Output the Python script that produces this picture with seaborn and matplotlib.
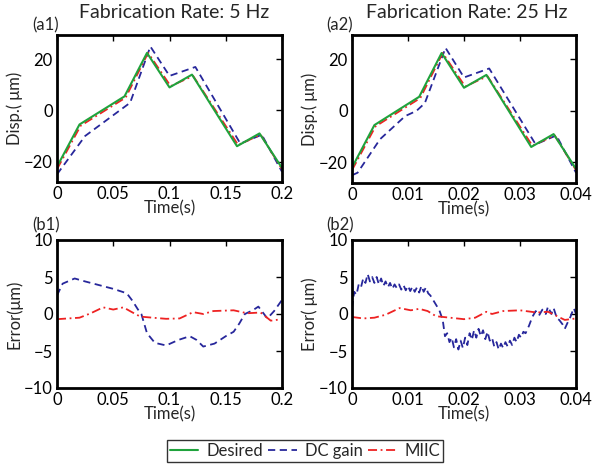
import numpy as np
import pandas as pd
import seaborn as sns
import matplotlib.pyplot as plt
from matplotlib.ticker import FuncFormatter

# ---- data ----
# displacement, 5 Hz (t in s, disp in um)
t_des_5 = [0, 0.02, 0.06, 0.08, 0.10, 0.12, 0.16, 0.18, 0.20]
y_des_5 = [-22, -5.5, 5.5, 22.5, 9, 14, -14, -9, -22.5]
t_dc_5 = [0, 0.005, 0.025, 0.065, 0.083, 0.10, 0.123, 0.163, 0.182, 0.20]
y_dc_5 = [-25, -22, -10, 3, 25, 13.5, 17, -13, -9.5, -24]
t_mi_5 = [0, 0.021, 0.061, 0.081, 0.101, 0.121, 0.161, 0.181, 0.20]
y_mi_5 = [-23, -6, 5, 22.5, 9.5, 13.5, -13.5, -9.5, -23]

# displacement, 25 Hz
t_des_25 = [0, 0.004, 0.012, 0.016, 0.020, 0.024, 0.032, 0.036, 0.040]
y_des_25 = [-22, -5.5, 5.5, 22.5, 9, 14, -14, -9, -22.5]
t_dc_25 = [0, 0.001, 0.005, 0.0095, 0.0115, 0.013, 0.0167, 0.020, 0.0245, 0.0328, 0.0365, 0.040]
y_dc_25 = [-25, -24, -11, -2, 0, 3, 24.5, 13, 16.5, -13, -9.5, -24]
t_mi_25 = [0, 0.0042, 0.0122, 0.0162, 0.0202, 0.0242, 0.0322, 0.0362, 0.040]
y_mi_25 = [-23, -6, 5, 22.5, 9.5, 13.5, -13.5, -9.5, -23]

# tracking error, 5 Hz
t_err_dc_5 = [0, 0.005, 0.0157, 0.025, 0.04, 0.05, 0.062, 0.067, 0.072, 0.075, 0.08,
              0.087, 0.097, 0.108, 0.118, 0.124, 0.13, 0.14, 0.15, 0.157, 0.162,
              0.167, 0.174, 0.179, 0.187, 0.193, 0.20]
y_err_dc_5 = [2.5, 4.1, 4.8, 4.4, 3.8, 3.4, 2.8, 1.8, 0.6, 0.0, -2.6,
              -3.9, -4.25, -3.5, -3.0, -3.5, -4.4, -4.0, -3.0, -2.4, -1.3,
              0.0, 0.5, 1.0, -0.6, 0.4, 1.9]
t_err_mi_5 = [0, 0.02, 0.03, 0.041, 0.05, 0.059, 0.066, 0.074, 0.085, 0.097, 0.109,
              0.121, 0.13, 0.139, 0.157, 0.169, 0.181, 0.19, 0.20]
y_err_mi_5 = [-0.7, -0.5, 0.1, 0.9, 0.6, 0.9, 0.3, -0.35, -0.5, -0.65, -0.6,
              0.25, 0.0, 0.4, 0.5, 0.1, 0.2, -0.9, -0.7]

# tracking error, 25 Hz
t_err_dc_25 = [0, 0.0004, 0.0008, 0.0012, 0.0016, 0.002, 0.0024, 0.0028, 0.0032, 0.0036,
               0.004, 0.0044, 0.0048, 0.0052, 0.0056, 0.006, 0.0064, 0.0068, 0.0072,
               0.0076, 0.008, 0.0084, 0.0088, 0.0092, 0.0096, 0.010, 0.0104, 0.0108,
               0.0112, 0.0116, 0.012, 0.0124, 0.0128, 0.0132, 0.0136, 0.014, 0.0148,
               0.0156, 0.0162, 0.0166, 0.017, 0.0174, 0.0178, 0.0182, 0.0186, 0.019,
               0.0194, 0.0198, 0.0202, 0.0206, 0.021, 0.0214, 0.0218, 0.0222, 0.0226,
               0.023, 0.0234, 0.0238, 0.0242, 0.0246, 0.025, 0.0254, 0.0258, 0.0262,
               0.0266, 0.027, 0.0274, 0.0278, 0.0282, 0.0286, 0.029, 0.0294, 0.0298,
               0.0302, 0.0306, 0.031, 0.0316, 0.0322, 0.0328, 0.0334, 0.034, 0.0346,
               0.035, 0.0356, 0.036, 0.0366, 0.037, 0.0376, 0.038, 0.0386, 0.039,
               0.0396, 0.040]
y_err_dc_25 = [0.8, 3.0, 2.6, 4.0, 3.6, 4.8, 4.2, 5.4, 4.4, 5.0,
               4.2, 5.0, 4.0, 4.8, 3.8, 4.4, 3.6, 4.2, 3.4,
               4.0, 3.5, 4.0, 3.3, 3.9, 3.2, 3.8, 3.1, 3.7,
               3.0, 3.6, 2.9, 3.8, 3.0, 3.6, 2.8, 2.5, 1.5,
               0.5, -0.8, -3.0, -2.6, -3.8, -3.2, -4.5, -3.4, -4.8,
               -3.6, -4.6, -3.2, -4.2, -2.6, -3.5, -2.2, -3.2, -2.0,
               -3.0, -2.2, -3.4, -2.4, -3.6, -3.2, -4.4, -3.8, -4.8,
               -4.0, -4.6, -3.8, -4.4, -3.6, -4.2, -3.2, -3.8, -2.8,
               -3.2, -2.4, -2.6, -1.6, -0.4, 0.4, -0.2, 0.6, 0.0,
               1.0, 0.0, 0.8, -0.6, -0.8, -1.4, -2.0, -1.0, -0.4,
               0.8, 0.0]
t_err_mi_25 = [0, 0.002, 0.004, 0.006, 0.0085, 0.0105, 0.012, 0.0135, 0.015, 0.02, 0.022,
               0.024, 0.025, 0.027, 0.03, 0.033, 0.035, 0.038, 0.040]
y_err_mi_25 = [-0.4, -0.6, -0.5, -0.1, 0.8, 0.5, 0.7, 0.4, -0.3, -0.7, -0.5,
               0.3, 0.0, 0.4, 0.5, 0.2, 0.3, -0.8, -0.6]

labels = ['Desired', 'DC gain', 'MIIC']
rates = ['Fabrication Rate: 5 Hz', 'Fabrication Rate: 25 Hz']

# ---- style ----
sns.set_style('white')
plt.rcParams['font.family'] = ['Lato', 'DejaVu Sans']
green = '#1fa33c'
blue = '#27279b'
red = '#ee2222'
FS = 12

fig = plt.figure(figsize=(6.05, 4.65), dpi=100)
W, H = 605, 465


def add_ax(x0, y0, x1, y1):
    return fig.add_axes([x0 / W, 1 - y1 / H, (x1 - x0) / W, (y1 - y0) / H])


ax_a1 = add_ax(57, 35, 282, 182)
ax_a2 = add_ax(352, 35, 576, 183)
ax_b1 = add_ax(57, 240, 282, 388)
ax_b2 = add_ax(352, 240, 576, 388)

fmt = FuncFormatter(lambda v, p: '{:g}'.format(v).replace('-', '\u2212'))


def style(ax, xmax, xticks, ylim, yticks, ylabel):
    ax.set_xlim(0, xmax)
    ax.set_ylim(*ylim)
    ax.set_xticks(xticks)
    ax.set_yticks(yticks)
    ax.xaxis.set_major_formatter(fmt)
    ax.yaxis.set_major_formatter(fmt)
    ax.tick_params(direction='in', top=True, right=True, length=4, width=1,
                   labelsize=FS, pad=3, colors='black')
    for s in ax.spines.values():
        s.set_linewidth(2)
        s.set_color('black')
    ax.set_xlabel('Time(s)', fontsize=FS, labelpad=-1)
    ax.set_ylabel(ylabel, fontsize=FS, labelpad=1)
    if ax.get_legend():
        ax.get_legend().remove()


# displacement panels
for ax, td, yd, tdc, ydc, tm, ym in [
        (ax_a1, t_des_5, y_des_5, t_dc_5, y_dc_5, t_mi_5, y_mi_5),
        (ax_a2, t_des_25, y_des_25, t_dc_25, y_dc_25, t_mi_25, y_mi_25)]:
    sns.lineplot(x=tdc, y=ydc, ax=ax, color=blue, lw=1.3, linestyle=(0, (4, 2.5)), label=labels[1])
    sns.lineplot(x=tm, y=ym, ax=ax, color=red, lw=1.3, linestyle=(0, (5, 2, 1, 2)), label=labels[2])
    sns.lineplot(x=td, y=yd, ax=ax, color=green, lw=1.5, label=labels[0])

style(ax_a1, 0.2, [0, 0.05, 0.1, 0.15, 0.2], (-28, 29.5), [-20, 0, 20], 'Disp.( \u03bcm)')
style(ax_a2, 0.04, [0, 0.01, 0.02, 0.03, 0.04], (-28, 29.5), [-20, 0, 20], 'Disp.( \u03bcm)')

# error panels
for ax, tdc, ydc, tm, ym in [
        (ax_b1, t_err_dc_5, y_err_dc_5, t_err_mi_5, y_err_mi_5),
        (ax_b2, t_err_dc_25, y_err_dc_25, t_err_mi_25, y_err_mi_25)]:
    sns.lineplot(x=tdc, y=ydc, ax=ax, color=blue, lw=1.3, linestyle=(0, (4, 2.5)))
    sns.lineplot(x=tm, y=ym, ax=ax, color=red, lw=1.3, linestyle=(0, (5, 2, 1, 2)))

style(ax_b1, 0.2, [0, 0.05, 0.1, 0.15, 0.2], (-10, 10), [-10, -5, 0, 5, 10], 'Error(\u03bcm)')
style(ax_b2, 0.04, [0, 0.01, 0.02, 0.03, 0.04], (-10, 10), [-10, -5, 0, 5, 10], 'Error( \u03bcm)')

# titles and panel tags
fig.text(174 / W, 1 - 12 / H, rates[0], ha='center', va='center', fontsize=14)
fig.text(467 / W, 1 - 12 / H, rates[1], ha='center', va='center', fontsize=14)
for tag, x, y in [('(a1)', 46, 25), ('(a2)', 340, 25), ('(b1)', 46, 225), ('(b2)', 340, 225)]:
    fig.text(x / W, 1 - y / H, tag, ha='center', va='center', fontsize=12)

# legend
h, l = ax_a1.get_legend_handles_labels()
order = [l.index(s) for s in labels]
leg = fig.legend([h[i] for i in order], [l[i] for i in order], ncol=3,
                 loc='center', bbox_to_anchor=(305 / W, 1 - 451 / H),
                 fontsize=FS, frameon=True, fancybox=False, handlelength=1.7,
                 handletextpad=0.5, columnspacing=0.3, borderpad=0.2,
                 borderaxespad=0)
leg.get_frame().set_edgecolor('black')
leg.get_frame().set_linewidth(1)

fig.savefig('out.png', dpi=100)
